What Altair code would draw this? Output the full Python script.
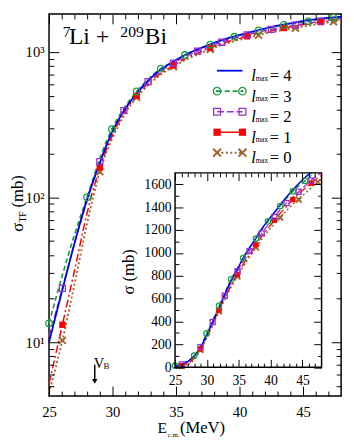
import altair as alt
import pandas as pd

# ----------------------------------------------------------------- data
E_grid = [25.0, 26.05, 27.0, 28.0, 29.0, 29.95, 30.9, 31.9, 32.8, 33.8, 34.8,
          35.7, 36.7, 37.7, 38.6, 39.6, 40.6, 41.5, 42.5, 43.5, 44.4, 45.4,
          46.4, 47.4, 48.0]
sigma_l4 = [10, 23, 48, 97, 172, 280, 395, 520, 635, 760, 860, 955, 1045,
            1130, 1210, 1285, 1355, 1420, 1490, 1550, 1605, 1660, 1705, 1735, 1750]
sigma_l3 = [13.5, 29, 55, 100, 185, 295, 410, 536, 650, 769, 865, 955, 1045,
            1125, 1200, 1276, 1345, 1410, 1475, 1540, 1585, 1630, 1680, 1728, 1755]
sigma_l2 = [11, 23.5, 48, 95, 176, 278, 395, 515, 625, 740, 840, 930, 1015,
            1095, 1170, 1245, 1315, 1375, 1435, 1490, 1535, 1585, 1635, 1680, 1705]
sigma_l1 = [5.2, 13.2, 31, 78, 160, 262, 380, 500, 610, 715, 810, 900, 985,
            1070, 1145, 1215, 1285, 1345, 1405, 1466, 1515, 1565, 1610, 1655, 1680]
sigma_l0 = [4.5, 10.3, 25, 66, 150, 250, 365, 488, 590, 700, 795, 880, 965,
            1047, 1120, 1190, 1255, 1310, 1370, 1425, 1466, 1520, 1570, 1620, 1645]

markers_l3 = [25.0, 28.0, 29.95, 31.9, 33.8, 35.7, 37.7, 39.6, 41.5, 43.5, 45.4, 47.4]
markers_l2 = [26.05, 29.0, 30.9, 32.8, 34.8, 36.7, 38.6, 40.6, 42.5, 44.4, 46.4]
markers_l1 = [26.05, 29.0, 31.9, 34.8, 37.7, 40.6, 43.5, 46.4]
markers_l0 = [26.05, 29.0, 31.9, 34.8, 37.7, 41.5, 44.4, 47.4]

lmax_labels = ["4", "3", "2", "1", "0"]
V_B = 28.6

main_x_major = [25, 30, 35, 40, 45]
main_x_minor = [26, 27, 28, 29, 31, 32, 33, 34, 36, 37, 38, 39, 41, 42, 43, 44, 46, 47]
main_y_major = [10, 100, 1000]
main_y_minor = [5, 6, 7, 8, 9, 20, 30, 40, 50, 60, 70, 80, 90,
                200, 300, 400, 500, 600, 700, 800, 900]
inset_x_major = [25, 30, 35, 40, 45]
inset_x_minor = main_x_minor
inset_y_major = [0, 200, 400, 600, 800, 1000, 1200, 1400, 1600]
inset_y_minor = [100, 300, 500, 700, 900, 1100, 1300, 1500]

# ----------------------------------------------------------------- layout
FONT = "Liberation Serif"
W, H = 299, 391          # main plot area
PX, PY = 50, 9           # page position of plot origin
def rx(p): return p - PX
def ry(p): return p - PY

main_x = alt.Scale(domain=[25, 48], nice=False, zero=False)
main_y = alt.Scale(type="log", domain=[4.264, 1830.6], nice=False)
IN_L, IN_R, IN_T, IN_B = 129, 279, 162.6, 361.5
inset_x = alt.Scale(domain=[25, 48], range=[IN_L, IN_R], nice=False, zero=False)
inset_y = alt.Scale(domain=[0, 1700], range=[IN_B, IN_T], nice=False, zero=False)

styles = {
    "4": dict(sig=sigma_l4, color="#0000ee", dash=None, width=1.8, kind=None, mk=[]),
    "3": dict(sig=sigma_l3, color="#1e9e40", dash=[5, 3], width=1.7, kind="circle_dot", mk=markers_l3),
    "2": dict(sig=sigma_l2, color="#9932cc", dash=[7, 3], width=1.5, kind="open_square", mk=markers_l2),
    "1": dict(sig=sigma_l1, color="#ff0000", dash=[8, 3, 2, 3], width=1.5, kind="square", mk=markers_l1),
    "0": dict(sig=sigma_l0, color="#a0642d", dash=[2, 2.5], width=1.9, kind="x", mk=markers_l0),
}

dummy = pd.DataFrame({"a": [0]})


def marker_marks(kind, color, f):
    if kind == "circle_dot":
        return [dict(shape="circle", filled=False, color=color, strokeWidth=1.3, size=45 * f, opacity=1),
                dict(shape="circle", filled=True, color=color, size=4 * f, opacity=1)]
    if kind == "open_square":
        return [dict(shape="square", filled=False, color=color, strokeWidth=1.3, size=38 * f, opacity=1)]
    if kind == "square":
        return [dict(shape="square", filled=True, color=color, size=42 * f, opacity=1)]
    if kind == "x":
        return [dict(shape="M-1,-1L1,1M-1,1L1,-1", filled=False, color=color,
                     strokeWidth=2, size=50 * f, opacity=1)]
    return []


def series_layers(key, xs, ys, width_f, mk_f):
    st = styles[key]
    df = pd.DataFrame({"E": E_grid, "s": st["sig"]})
    kw = dict(color=st["color"], strokeWidth=st["width"] * width_f, interpolate="monotone")
    if st["dash"]:
        kw["strokeDash"] = st["dash"]
    enc = dict(x=alt.X("E:Q", scale=xs, axis=None), y=alt.Y("s:Q", scale=ys, axis=None))
    line = alt.Chart(df).mark_line(**kw).encode(**enc)
    dm = df[df["E"].isin(st["mk"])]
    pts = [alt.Chart(dm).mark_point(**m).encode(**enc) for m in marker_marks(st["kind"], st["color"], mk_f)]
    return line, pts


def axis_layer(channel, scale, orient, values, tick_size=0, offset=0, labels=False,
               label_size=15, label_pad=0, label_expr=None):
    ticks = tick_size > 0
    ax_kw = dict(orient=orient, values=values, offset=offset, labels=labels, ticks=ticks,
                 tickSize=tick_size, domain=False, grid=False, title=None,
                 labelFont=FONT, labelFontSize=label_size, labelPadding=label_pad,
                 labelColor="black", tickColor="black", tickWidth=1, zindex=1,
                 labelFlush=False, labelOverlap=False, format="d")
    if label_expr:
        ax_kw["labelExpr"] = label_expr
    d = pd.DataFrame({"v": [values[0]]})
    if channel == "x":
        enc = dict(x=alt.X("v:Q", scale=scale, axis=alt.Axis(**ax_kw)), y=alt.value(0))
    else:
        enc = dict(y=alt.Y("v:Q", scale=scale, axis=alt.Axis(**ax_kw)), x=alt.value(0))
    return alt.Chart(d).mark_point(opacity=0).encode(**enc)


def txt(text, x, y, size, angle=0, align="left", baseline="alphabetic", style="normal"):
    return alt.Chart(dummy).mark_text(text=text, font=FONT, fontSize=size, angle=angle, align=align,
                                      baseline=baseline, fontStyle=style, color="black").encode(
        x=alt.value(x), y=alt.value(y))


layers = []

# ---------------- main panel curves
order = ["0", "1", "2", "3", "4"]
main_pts = []
for k in order:
    ln, pts = series_layers(k, main_x, main_y, 1.0, 1.0)
    layers.append(ln)
    main_pts += pts
layers += main_pts

# ---------------- inset curves
inset_pts = []
for k in order:
    ln, pts = series_layers(k, inset_x, inset_y, 0.85, 0.7)
    layers.append(ln)
    inset_pts += pts
layers += inset_pts

# mask above inset top (curves leave the inset frame there)
layers.append(alt.Chart(dummy).mark_rect(color="white").encode(
    x=alt.value(IN_R - 45), x2=alt.value(IN_R + 3), y=alt.value(IN_T - 11), y2=alt.value(IN_T)))
# inset frame
layers.append(alt.Chart(dummy).mark_rect(fillOpacity=0, stroke="black", strokeWidth=1.5).encode(
    x=alt.value(IN_L), x2=alt.value(IN_R), y=alt.value(IN_T), y2=alt.value(IN_B)))

# ---------------- main axes
log_expr = "datum.value == 10 ? '10\u00b9' : (datum.value == 100 ? '10\u00b2' : '10\u00b3')"
layers += [
    axis_layer("x", main_x, "bottom", main_x_major, labels=True, label_size=15, label_pad=9),
    axis_layer("x", main_x, "top", main_x_major, tick_size=10, offset=-H),
    axis_layer("x", main_x, "top", main_x_minor, tick_size=5, offset=-H),
    axis_layer("x", main_x, "bottom", main_x_major, tick_size=10, offset=-H),
    axis_layer("x", main_x, "bottom", main_x_minor, tick_size=5, offset=-H),
    axis_layer("y", main_y, "left", main_y_major, labels=True, label_size=15, label_pad=5, label_expr=log_expr),
    axis_layer("y", main_y, "right", main_y_major, tick_size=10, offset=-W),
    axis_layer("y", main_y, "right", main_y_minor, tick_size=5, offset=-W),
    axis_layer("y", main_y, "left", main_y_major, tick_size=10, offset=-W),
    axis_layer("y", main_y, "left", main_y_minor, tick_size=5, offset=-W),
]
# ---------------- inset axes
layers += [
    axis_layer("x", inset_x, "bottom", inset_x_major, labels=True, label_size=14, label_pad=7,
               offset=-(H - IN_B)),
    axis_layer("x", inset_x, "top", inset_x_major, tick_size=8, offset=-IN_B),
    axis_layer("x", inset_x, "top", inset_x_minor, tick_size=4, offset=-IN_B),
    axis_layer("x", inset_x, "bottom", inset_x_major, tick_size=8, offset=-(H - IN_T)),
    axis_layer("x", inset_x, "bottom", inset_x_minor, tick_size=4, offset=-(H - IN_T)),
    axis_layer("y", inset_y, "left", inset_y_major, labels=True, label_size=14, label_pad=4,
               offset=-IN_L),
    axis_layer("y", inset_y, "right", inset_y_major, tick_size=8, offset=-(W - IN_L)),
    axis_layer("y", inset_y, "right", inset_y_minor, tick_size=4, offset=-(W - IN_L)),
    axis_layer("y", inset_y, "left", inset_y_major, tick_size=8, offset=-IN_R),
    axis_layer("y", inset_y, "left", inset_y_minor, tick_size=4, offset=-IN_R),
]

# ---------------- titles / annotations
layers += [
    txt("7", rx(64), ry(33), 16),
    txt("Li", rx(70.5), ry(39.5), 24),
    txt("+", rx(98), ry(39.5), 24),
    txt("209", rx(123), ry(33), 16),
    txt("Bi", rx(148), ry(39.5), 24),
    # main y title  sigma_TF (mb)
    txt("\u03c3", rx(23), ry(232), 17, angle=270),
    txt("TF", rx(26), ry(222.5), 10, angle=270),
    txt("(mb)", rx(23), ry(207), 17, angle=270),
    # main x title  E_c.m. (MeV)
    txt("E", rx(161), ry(438), 16),
    txt("c.m.", rx(171.5), ry(441.5), 7),
    txt("(MeV)", rx(184), ry(438), 17),
    # inset y title
    txt("\u03c3 (mb)", rx(132), ry(273), 17, angle=270, align="center", baseline="middle"),
]

# V_B arrow
vb = pd.DataFrame({"E": [V_B]})
vb_x = alt.X("E:Q", scale=main_x, axis=None)
layers += [
    alt.Chart(vb).mark_rule(color="black", strokeWidth=1.5).encode(
        x=vb_x, y=alt.value(ry(368)), y2=alt.value(ry(384))),
    alt.Chart(vb).mark_point(shape="triangle-down", filled=True, color="black", size=30, opacity=1).encode(
        x=vb_x, y=alt.value(ry(385))),
    alt.Chart(vb).mark_text(text="V", font=FONT, fontSize=15, align="left", dx=-1, color="black").encode(
        x=vb_x, y=alt.value(ry(366))),
    alt.Chart(vb).mark_text(text="B", font=FONT, fontSize=9, align="left", dx=9, color="black").encode(
        x=vb_x, y=alt.value(ry(369.5))),
]

# ---------------- legend
LEG_Y0, LEG_DY = ry(67), 21
LX1, LX2 = rx(222), rx(248)
for i, k in enumerate(lmax_labels):
    st = styles[k]
    yy = LEG_Y0 + i * LEG_DY
    dl = pd.DataFrame({"px": [LX1, LX2], "py": [yy, yy]})
    enc = dict(x=alt.X("px:Q", scale=None), y=alt.Y("py:Q", scale=None))
    kw = dict(color=st["color"], strokeWidth=st["width"])
    if st["dash"] and k != "1":
        kw["strokeDash"] = st["dash"]
    layers.append(alt.Chart(dl).mark_line(**kw).encode(**enc))
    for m in marker_marks(st["kind"], st["color"], 1.3):
        layers.append(alt.Chart(dl).mark_point(**m).encode(**enc))

leg = pd.DataFrame({"lab": ["= " + s for s in lmax_labels],
                    "ty": [LEG_Y0 + i * LEG_DY + 6 for i in range(len(lmax_labels))],
                    "sy": [LEG_Y0 + i * LEG_DY + 8.5 for i in range(len(lmax_labels))]})
layers += [
    alt.Chart(leg).mark_text(text="l", font=FONT, fontSize=17, fontStyle="italic", align="left",
                             color="black").encode(x=alt.value(rx(257)), y=alt.Y("ty:Q", scale=None)),
    alt.Chart(leg).mark_text(text="max", font=FONT, fontSize=7.5, align="left",
                             color="black").encode(x=alt.value(rx(261.5)), y=alt.Y("sy:Q", scale=None)),
    alt.Chart(leg).mark_text(font=FONT, fontSize=17, align="left", color="black").encode(
        x=alt.value(rx(276)), y=alt.Y("ty:Q", scale=None), text="lab:N"),
]

chart = alt.layer(*layers).properties(
    width=W, height=H,
    autosize=alt.AutoSizeParams(type="none"),
    padding={"left": 42, "top": 1, "right": 5, "bottom": 45},
).resolve_scale(x="independent", y="independent").resolve_axis(
    x="independent", y="independent").configure_view(
    stroke="black", strokeWidth=1.5).configure_axis(
    labelFont=FONT).configure_text(font=FONT)

chart.save("out.html", embed_options={"renderer": "svg", "actions": False})
